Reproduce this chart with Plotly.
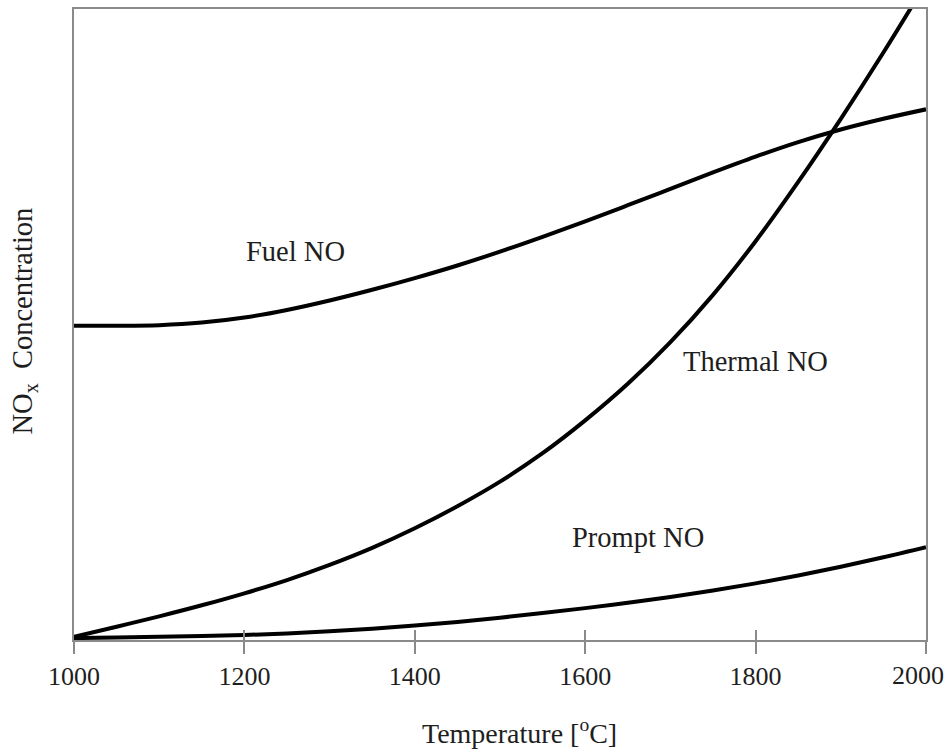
import plotly.graph_objects as go

# Temperature [°C] and relative NOx concentration (0-100 arbitrary units)
temps = [1000, 1050, 1100, 1150, 1200, 1250, 1300, 1350, 1400, 1450, 1500,
         1550, 1600, 1650, 1700, 1750, 1800, 1850, 1900, 1950, 2000]

thermal_y = [0.5, 2.1, 3.75, 5.5, 7.4, 9.5, 11.9, 14.6, 17.7, 21.2, 25.1,
             29.6, 34.8, 40.6, 47.2, 54.7, 63.2, 72.6, 82.6, 93.1, 104.1]

fuel_y = [49.8, 49.8, 49.9, 50.3, 51.1, 52.3, 53.8, 55.5, 57.35, 59.35, 61.55,
          63.9, 66.35, 68.9, 71.5, 74.1, 76.6, 78.9, 80.9, 82.6, 84.1]

prompt_y = [0.3, 0.4, 0.5, 0.62, 0.79, 1.04, 1.37, 1.79, 2.29, 2.87, 3.53,
            4.27, 5.05, 5.89, 6.81, 7.83, 8.97, 10.23, 11.61, 13.11, 14.71]

tick_vals = [1000, 1200, 1400, 1600, 1800, 2000]
tick_text = ["1000", "1200", "1400", "1600", "1800", "2000"]

labels = [("Fuel NO", 1260, 61.6), ("Thermal NO", 1800, 44.1), ("Prompt NO", 1662, 16.3)]

FONT = "Liberation Serif, Times New Roman, serif"
TXT = "#1e1e1e"
AX = "#8a8a8a"
TICKFONT = dict(family=FONT, size=26, color=TXT)

fig = go.Figure()
line = dict(color="black", width=4, shape="spline", smoothing=1.0)
for y, n in [(thermal_y, "Thermal NO"), (fuel_y, "Fuel NO"), (prompt_y, "Prompt NO")]:
    fig.add_trace(go.Scatter(x=temps, y=y, mode="lines", line=line, name=n,
                             showlegend=False, hoverinfo="skip"))

# helper traces for the overlaid tick axes
for ax in ("x2", "x3"):
    fig.add_trace(go.Scatter(x=[1000, 2000], y=[None, None], xaxis=ax, mode="lines",
                             showlegend=False, hoverinfo="skip"))

for text, tx, ty in labels:
    fig.add_annotation(x=tx, y=ty, text=text, showarrow=False,
                       font=dict(family=FONT, size=28.5, color=TXT))

fig.add_annotation(xref="paper", yref="paper", x=0.523, y=-0.145,
                   xanchor="center", yanchor="middle",
                   text="Temperature [<sup>o</sup>C]", showarrow=False,
                   font=dict(family=FONT, size=28, color=TXT))
fig.add_annotation(xref="paper", yref="paper", x=-0.0585, y=0.505, textangle=-90,
                   xanchor="center", yanchor="middle",
                   text="NO<sub>x</sub>  Concentration", showarrow=False,
                   font=dict(family=FONT, size=28.5, color=TXT))

fig.update_layout(
    width=951, height=751,
    margin=dict(l=74, r=23, t=7, b=111),
    paper_bgcolor="white", plot_bgcolor="white",
    xaxis=dict(range=[1000, 2000], tickvals=tick_vals,
               ticktext=tick_text[:-1] + [""],
               ticks="outside", ticklen=12, tickwidth=1.5, tickcolor=AX,
               showline=True, linecolor=AX, linewidth=1.5, mirror=True,
               showgrid=False, zeroline=False, ticklabeloverflow="allow",
               tickfont=TICKFONT),
    xaxis2=dict(range=[1000, 2000], overlaying="x", side="bottom",
                tickvals=tick_vals, ticks="inside", ticklen=10, tickwidth=1.5,
                tickcolor=AX, showticklabels=False, showline=False,
                showgrid=False, zeroline=False),
    xaxis3=dict(range=[1000, 2000], overlaying="x", side="bottom",
                tickvals=tick_vals[-1:], ticktext=tick_text[-1:],
                ticks="outside", ticklen=12, tickcolor="rgba(0,0,0,0)",
                ticklabelshift=-8, ticklabeloverflow="allow",
                showline=False, showgrid=False, zeroline=False,
                tickfont=TICKFONT),
    yaxis=dict(range=[0, 100], showticklabels=False, ticks="",
               showline=True, linecolor=AX, linewidth=1.5, mirror=True,
               showgrid=False, zeroline=False),
)

fig.write_html("out.html", config={"displayModeBar": False},
               post_script="document.body.style.margin='0';document.body.style.overflow='hidden';")
